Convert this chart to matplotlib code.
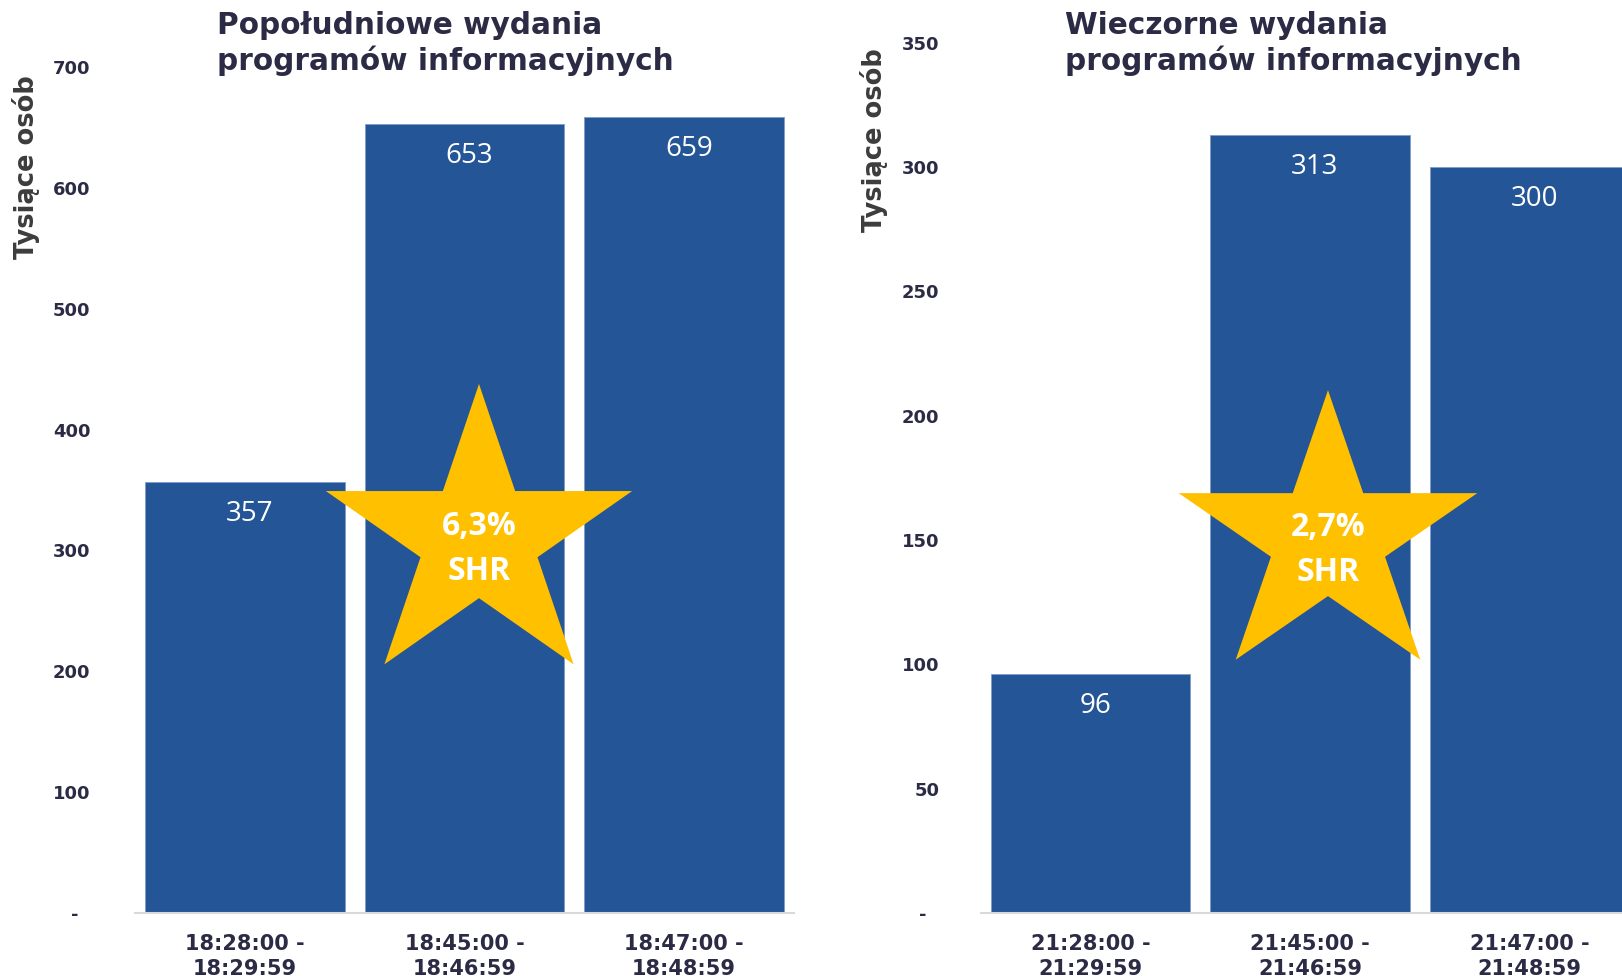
import numpy as np
import matplotlib
matplotlib.use("Agg")
import matplotlib.pyplot as plt
from matplotlib.patches import Polygon
from matplotlib.transforms import Affine2D, ScaledTranslation

# ---- data ----
left_categories = ["18:28:00 -\n18:29:59", "18:45:00 -\n18:46:59", "18:47:00 -\n18:48:59"]
left_values = [357, 653, 659]
right_categories = ["21:28:00 -\n21:29:59", "21:45:00 -\n21:46:59", "21:47:00 -\n21:48:59"]
right_values = [96, 313, 300]
left_title = "Popołudniowe wydania\nprogramów informacyjnych"
right_title = "Wieczorne wydania\nprogramów informacyjnych"
left_ticks = [0, 100, 200, 300, 400, 500, 600, 700]
right_ticks = [0, 50, 100, 150, 200, 250, 300, 350]
left_share = "6,3%"
right_share = "2,7%"
ylabel = "Tysiące osób"

W, H = 1622, 976
DPI = 100
BAR = "#245597"
STAR = "#FFC000"
NAVY = "#2B2B45"
GRAY = "#3C3C3C"

fig = plt.figure(figsize=(W / DPI, H / DPI), dpi=DPI)


def px_axes(x0, x1, y_bottom, y_top):
    return fig.add_axes([x0 / W, (H - y_bottom) / H, (x1 - x0) / W, (y_bottom - y_top) / H])


def star_vertices(rx, ry):
    verts = []
    r_in = 0.382
    for i in range(10):
        ang = np.pi / 2 + i * np.pi / 5
        r = 1.0 if i % 2 == 0 else r_in
        verts.append((rx * r * np.cos(ang), ry * r * np.sin(ang)))
    return verts


def draw_panel(ax, cats, vals, ticks, ymax, tickpad, share, star_c, star_r):
    x = np.arange(len(cats))
    ax.bar(x, vals, width=0.91, color=BAR, edgecolor="#7F9CC8", linewidth=0.6, zorder=2)
    ax.set_xlim(-0.5, 2.5)
    ax.set_ylim(0, ymax)
    for s in ["top", "right", "left"]:
        ax.spines[s].set_visible(False)
    ax.spines["bottom"].set_color("#D9D9D9")
    ax.spines["bottom"].set_linewidth(1.5)
    ax.set_xticks(x)
    ax.set_xticklabels(cats, fontsize=15, fontweight="bold", color=NAVY, linespacing=1.3)
    ax.set_yticks(ticks)
    ax.set_yticklabels(["-  " if t == 0 else str(t) for t in ticks],
                       fontsize=13, fontweight="bold", color=NAVY)
    ax.tick_params(axis="both", length=0)
    ax.tick_params(axis="x", pad=15)
    ax.tick_params(axis="y", pad=tickpad)
    for xi, v in zip(x, vals):
        ax.annotate(str(v), (xi, v), xytext=(5, -32), textcoords="offset pixels",
                    ha="center", va="center", color="white", fontsize=20,
                    family="Open Sans", zorder=3)
    # star
    tr = Affine2D() + ScaledTranslation(star_c[0], star_c[1], ax.transData)
    poly = Polygon(star_vertices(*star_r), closed=True, facecolor=STAR,
                   edgecolor="none", transform=tr, zorder=4, clip_on=False)
    ax.add_patch(poly)
    ax.annotate(share, star_c, xytext=(0, 12), textcoords="offset pixels",
                ha="center", va="center", color="white", fontsize=23,
                fontweight="bold", family="Open Sans", zorder=5)
    ax.annotate("SHR", star_c, xytext=(0, -33), textcoords="offset pixels",
                ha="center", va="center", color="white", fontsize=23,
                fontweight="bold", family="Open Sans", zorder=5)


axL = px_axes(135, 794, 913, 67)
draw_panel(axL, left_categories, left_values, left_ticks, 700, 32, left_share,
           (1.066, 309.5), (161, 155))
axR = px_axes(981, 1639, 913, 42.5)
draw_panel(axR, right_categories, right_values, right_ticks, 350, 30, right_share,
           (1.082, 150.3), (157, 149))

fig.text(26 / W, 1 - 167 / H, ylabel, rotation=90, ha="center", va="center",
         fontsize=18.5, fontweight="bold", color=GRAY)
fig.text(874 / W, 1 - 140 / H, ylabel, rotation=90, ha="center", va="center",
         fontsize=18.5, fontweight="bold", color=GRAY)

fig.text(217 / W, 1 - 43.5 / H, left_title, ha="left", va="center", fontsize=21.3,
         fontweight="bold", color=NAVY, linespacing=1.2)
fig.text(1065 / W, 1 - 43.5 / H, right_title, ha="left", va="center", fontsize=21.3,
         fontweight="bold", color=NAVY, linespacing=1.2)

fig.savefig("out.png", dpi=DPI)
